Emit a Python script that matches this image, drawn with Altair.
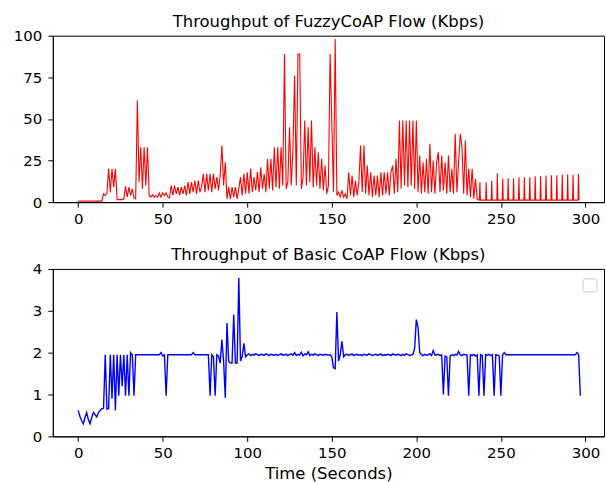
import altair as alt
import pandas as pd

FONT = "DejaVu Sans"

# ---------------- Top panel: FuzzyCoAP throughput (Kbps) ----------------
# sampled once per second from t = 0 to t = 236
fuzzy_main_v = [
    0.6, 0.6, 0.6, 0.6, 0.6, 0.6, 0.6, 0.6, 0.6, 0.6,
    0.6, 0.6, 0.6, 0.6, 0.6, 5, 4, 5.5, 20, 6,
    20, 9, 20, 1.5, 1.5, 1.5, 1.5, 1.8, 9.5, 3,
    9, 4, 8, 2.5, 2, 61, 12, 33, 8, 33,
    10, 33, 4, 3, 4.5, 3, 4, 3, 5.5, 3,
    5.5, 4, 5.5, 3, 2.5, 10, 4, 10, 5, 9,
    4, 9, 5, 10, 4, 12, 5, 12, 6, 13,
    5, 13, 6, 9, 17, 6, 17, 7, 17, 6,
    17, 8, 15, 7, 16, 34, 10, 24, 2, 9,
    2, 9, 3, 9, 2, 8, 15, 4, 17, 5,
    18, 5, 20, 6, 15, 7, 18, 6, 21, 8,
    17, 6, 26, 8, 26, 7, 33, 9, 33, 8,
    33, 10, 89, 8, 12, 45, 10, 31, 76, 10,
    89, 89, 8, 15, 49, 10, 45, 12, 49, 9,
    33, 10, 30, 8, 26, 7, 22, 5, 10, 89,
    48, 6, 98, 4, 6, 3, 7, 3, 5, 2,
    18, 4, 16, 3, 13, 4, 12, 34, 6, 34,
    5, 22, 4, 18, 3, 16, 4, 16, 3, 18,
    4, 18, 5, 18, 4, 18, 22, 5, 26, 6,
    49, 8, 49, 10, 49, 9, 49, 10, 49, 8,
    49, 6, 28, 5, 24, 6, 26, 5, 35, 6,
    25, 5, 24, 30, 6, 28, 7, 24, 5, 28,
    6, 20, 5, 41, 6, 24, 41, 33, 5, 37,
    4, 20, 3, 20, 2, 14, 1.5,
]
fuzzy_main_t = list(range(len(fuzzy_main_v)))

# periodic spikes after t = 237 s
fuzzy_spike_t = [237.6, 241.3, 244.6, 247.9, 251.1, 254.3, 257.5, 260.7, 263.9,
                 267.1, 270.3, 273.5, 276.7, 279.9, 283.1, 286.3, 289.5, 292.7, 295.9]
fuzzy_spike_v = [12, 12, 12.8, 17.4, 14.2, 14.4, 14.4, 15, 15,
                 15, 15.6, 15.6, 15.8, 16.2, 16.2, 16.6, 16.6, 16.6, 17]
fuzzy_base = 1.2

# ---------------- Bottom panel: Basic CoAP throughput (Kbps) ----------------
basic_v = (
    [0.62, 0.48, 0.38, 0.30, 0.45, 0.57, 0.40, 0.30, 0.45, 0.57, 0.52, 0.46, 0.57, 0.62, 0.66, 0.67]
    + [1.95, 0.65, 0.66, 1.95, 0.90, 1.95, 0.62, 1.95, 0.97, 1.95, 1.20, 1.95, 0.97, 1.95, 0.97, 2.00, 1.95, 0.97, 1.95]
    + [1.95] * 14
    + [2.00, 1.92, 1.95, 0.97, 1.95]
    + [1.95] * 14
    + [2.00]
    + [1.95] * 9
    + [0.97, 1.95, 1.90, 0.97, 1.95, 1.92, 1.75, 2.31, 1.80, 0.92, 2.71, 1.80, 1.75, 1.75, 2.91, 1.75,
       1.75, 3.79, 1.80, 1.90, 2.22, 1.90]
    + [1.95, 1.97, 1.93, 1.96, 1.94, 1.97, 1.95, 1.93, 1.96, 1.95,
       1.94, 1.97, 1.95, 1.93, 1.96, 1.95, 1.94, 1.96, 1.93, 1.95,
       1.97, 1.94, 1.95, 1.96, 1.93, 1.95, 1.97, 1.94, 2.00, 1.93,
       1.96, 1.94, 2.01, 1.92, 1.97, 1.95, 2.02, 1.93, 1.96, 1.94,
       1.97, 1.95, 1.93, 1.96, 1.95, 1.94, 1.96, 1.95, 1.94, 1.95]
    + [1.90, 1.64, 1.62, 2.97, 1.80, 1.95, 2.27, 1.90, 1.95]
    + [1.96, 1.94, 1.95, 1.97, 1.93, 1.95, 1.96, 1.94, 1.95, 1.93,
       1.96, 1.95, 1.94, 1.97, 1.95, 1.93, 1.95, 1.96, 1.94, 1.95,
       1.97, 1.93, 1.95, 1.94, 1.96, 1.95, 1.93, 1.97, 1.95, 1.94,
       1.96, 1.95, 1.93, 1.96, 1.94, 1.97, 1.95, 1.93, 1.95, 1.96]
    + [2.10, 2.79, 2.60, 2.00]
    + [1.95, 1.93, 1.96, 1.94, 1.95, 1.97, 1.93, 2.05, 1.94, 1.95, 1.96, 1.93, 1.95]
    + [1.00, 1.92, 1.90, 0.97, 1.92]
    + [1.95, 1.93, 1.96, 1.94, 2.03, 1.95, 1.93, 1.96, 1.95, 1.94]
    + [0.97, 1.95, 1.93, 1.96, 1.92, 1.95, 0.97, 1.95, 1.93, 0.97, 1.95, 1.94, 1.96, 1.93, 1.95,
       0.97, 1.95, 1.94, 1.92, 0.97, 1.95, 2.00]
    + [1.95] * 42
    + [2.00, 1.95, 0.97]
)
basic_t = list(range(len(basic_v)))

x_ticks = [0, 50, 100, 150, 200, 250, 300]
top_y_ticks = [0, 25, 50, 75, 100]
bot_y_ticks = [0, 1, 2, 3, 4]

# ---------------- build tables ----------------
top_rows = [{"t": t, "v": v} for t, v in zip(fuzzy_main_t, fuzzy_main_v)]
for s, h in zip(fuzzy_spike_t, fuzzy_spike_v):
    top_rows.append({"t": s - 0.3, "v": fuzzy_base})
    top_rows.append({"t": s, "v": h})
    top_rows.append({"t": s + 0.3, "v": fuzzy_base})
top_df = pd.DataFrame(top_rows)
bot_df = pd.DataFrame({"t": basic_t, "v": basic_v})

W = 553
x_scale = alt.Scale(domain=[-15, 311], nice=False, zero=False)

top = alt.Chart(
    top_df,
    title=alt.TitleParams("Throughput of FuzzyCoAP Flow (Kbps)"),
).mark_line(color="#ff0000", strokeWidth=1.1, clip=True).encode(
    x=alt.X("t:Q", scale=x_scale, axis=alt.Axis(values=x_ticks, title=None)),
    y=alt.Y("v:Q", scale=alt.Scale(domain=[0, 100], nice=False),
            axis=alt.Axis(values=top_y_ticks, title=None)),
    order="t:Q",
).properties(width=W, height=167)

bot_line = alt.Chart(bot_df).mark_line(color="#0000ff", strokeWidth=1.4, clip=True).encode(
    x=alt.X("t:Q", scale=x_scale, axis=alt.Axis(values=x_ticks, title="Time (Seconds)")),
    y=alt.Y("v:Q", scale=alt.Scale(domain=[0, 4], nice=False),
            axis=alt.Axis(values=bot_y_ticks, title=None)),
    order="t:Q",
)

legend_box = alt.Chart(pd.DataFrame({"k": [0]})).mark_rect(
    fill="white", stroke="#cccccc", strokeWidth=1, cornerRadius=2
).encode(
    x=alt.value(532), x2=alt.value(546), y=alt.value(10), y2=alt.value(23)
)

bottom = alt.layer(
    bot_line, legend_box,
    title=alt.TitleParams("Throughput of Basic CoAP Flow (Kbps)"),
).properties(width=W, height=168)

chart = alt.vconcat(top, bottom, spacing=20).properties(
    padding={"left": 12, "top": 13, "right": 1, "bottom": 0},
    background="white",
).configure_view(
    stroke="black", strokeWidth=1
).configure_axis(
    grid=False,
    domainColor="black", domainWidth=1,
    tickColor="black", tickSize=5, tickWidth=1,
    labelColor="black", labelFont=FONT, labelFontSize=15, labelPadding=4,
    titleColor="black", titleFont=FONT, titleFontSize=16.5, titleFontWeight="normal",
    titlePadding=5,
).configure_axisY(
    labelPadding=6,
).configure_title(
    font=FONT, fontSize=16.5, fontWeight="normal", color="black", anchor="middle", offset=-2,
).configure_concat(spacing=20)

chart.save("out.html", embed_options={"renderer": "svg", "actions": False})
